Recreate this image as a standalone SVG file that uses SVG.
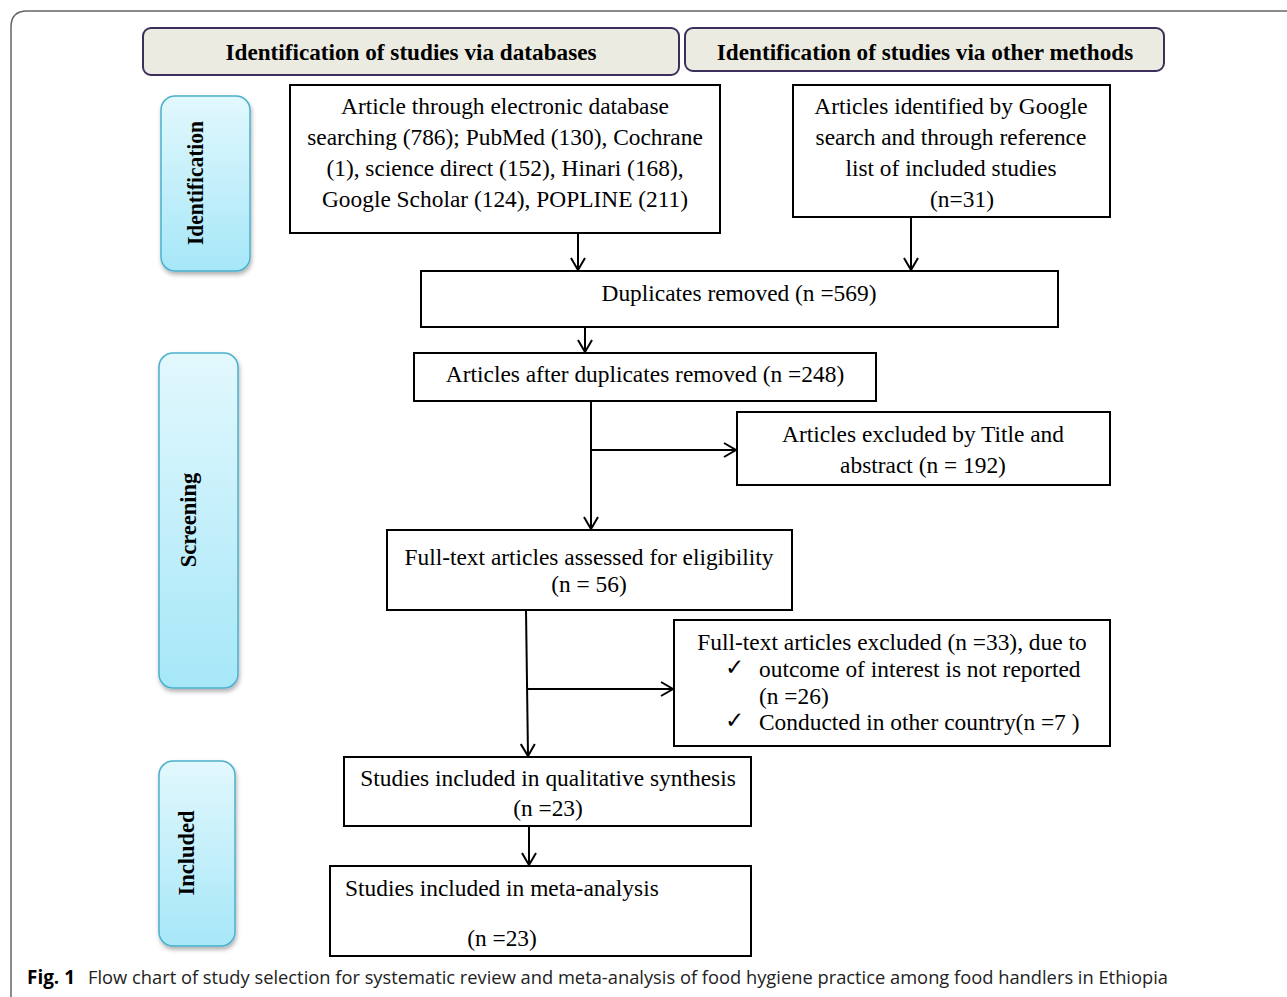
<svg xmlns="http://www.w3.org/2000/svg" width="1287" height="997" viewBox="0 0 1287 997">
<style>
.box{fill:#fff;stroke:#000;stroke-width:2}
.hdr{fill:#ecebe2;stroke:#3d2f5b;stroke-width:2}
.side{fill:url(#g);stroke:#4bb0cc;stroke-width:1.5;filter:url(#sh)}
.t{font-family:"Liberation Serif","Times New Roman",serif;font-size:23.4px;fill:#000}
.h{font-size:23.2px;font-weight:bold}
.s{font-size:22.5px;font-weight:bold}
.c{text-anchor:middle}
.con{fill:none;stroke:#000;stroke-width:2}
</style>
<defs>
<linearGradient id="g" x1="0" y1="0" x2="0" y2="1">
<stop offset="0" stop-color="#e2f8fd"/>
<stop offset="1" stop-color="#a6e7f8"/>
</linearGradient>
<filter id="sh" x="-20%" y="-10%" width="140%" height="120%">
<feDropShadow dx="1" dy="3" stdDeviation="2" flood-color="#000" flood-opacity="0.3"/>
</filter>
<marker id="a" markerWidth="16" markerHeight="16" refX="14" refY="8" orient="auto" markerUnits="userSpaceOnUse">
<polyline points="2,1 14,8 2,15" fill="none" stroke="#000" stroke-width="2"/>
</marker>
</defs>
<path d="M1287 11 H27 Q11 11 11 27 V997" fill="none" stroke="#666" stroke-width="1.5"/>

<g id="hdr1"><rect class="hdr" x="143" y="28" width="536" height="47" rx="8"/><text class="t c h" x="411" y="60">Identification of studies via databases</text></g>
<g id="hdr2"><rect class="hdr" x="685" y="28" width="479" height="43" rx="8"/><text class="t c h" x="925" y="60">Identification of studies via other methods</text></g>

<g id="side-identification"><rect class="side" x="161" y="96" width="89" height="175" rx="14"/><text class="t c s" transform="translate(203,183) rotate(-90)" textLength="124" lengthAdjust="spacingAndGlyphs">Identification</text></g>
<g id="side-screening"><rect class="side" x="159" y="353" width="79" height="335" rx="14"/><text class="t c s" transform="translate(196,520) rotate(-90)">Screening</text></g>
<g id="side-included"><rect class="side" x="159" y="761" width="76" height="185" rx="14"/><text class="t c s" transform="translate(194,853) rotate(-90)">Included</text></g>

<g id="db">
<rect class="box" x="290" y="85" width="430" height="148"/>
<text class="t c" x="505" y="114">Article through electronic database</text>
<text class="t c" x="505" y="145">searching (786); PubMed (130), Cochrane</text>
<text class="t c" x="505" y="176">(1), science direct (152), Hinari (168),</text>
<text class="t c" x="505" y="207">Google Scholar (124), POPLINE (211)</text>
</g>
<g id="other">
<rect class="box" x="793" y="85" width="317" height="132"/>
<text class="t c" x="951" y="114">Articles identified by Google</text>
<text class="t c" x="951" y="145">search and through reference</text>
<text class="t c" x="951" y="176">list of included studies</text>
<text class="t c" x="962" y="207">(n=31)</text>
</g>
<g id="dup">
<rect class="box" x="421" y="271" width="637" height="56"/>
<text class="t c" x="739" y="301">Duplicates removed (n =569)</text>
</g>
<g id="after">
<rect class="box" x="414" y="353" width="462" height="48"/>
<text class="t c" x="645" y="382">Articles after duplicates removed (n =248)</text>
</g>
<g id="excl1">
<rect class="box" x="737" y="412" width="373" height="73"/>
<text class="t c" x="923" y="442">Articles excluded by Title and</text>
<text class="t c" x="923" y="473">abstract (n = 192)</text>
</g>
<g id="fulltext">
<rect class="box" x="387" y="530" width="405" height="80"/>
<text class="t c" x="589" y="565">Full-text articles assessed for eligibility</text>
<text class="t c" x="589" y="592">(n = 56)</text>
</g>
<g id="excl2">
<rect class="box" x="674" y="620" width="436" height="126"/>
<text class="t c" x="892" y="650">Full-text articles excluded (n =33), due to</text>
<text class="t" x="725" y="675">✓</text>
<text class="t" x="759" y="677">outcome of interest is not reported</text>
<text class="t" x="759" y="704">(n =26)</text>
<text class="t" x="725" y="728">✓</text>
<text class="t" x="759" y="730">Conducted in other country(n =7 )</text>
</g>
<g id="qual">
<rect class="box" x="344" y="757" width="407" height="69"/>
<text class="t c" x="548" y="786">Studies included in qualitative synthesis</text>
<text class="t c" x="548" y="816">(n =23)</text>
</g>
<g id="meta">
<rect class="box" x="330" y="866" width="421" height="90"/>
<text class="t" x="345" y="896">Studies included in meta-analysis</text>
<text class="t c" x="502" y="946">(n =23)</text>
</g>

<g id="connectors">
<line class="con" x1="578" y1="233" x2="578" y2="270" marker-end="url(#a)"/>
<line class="con" x1="911" y1="217" x2="911" y2="270" marker-end="url(#a)"/>
<line class="con" x1="585" y1="327" x2="585" y2="352" marker-end="url(#a)"/>
<line class="con" x1="591" y1="401" x2="591" y2="529" marker-end="url(#a)"/>
<line class="con" x1="591" y1="450" x2="736" y2="450" marker-end="url(#a)"/>
<line class="con" x1="526" y1="610" x2="528" y2="756" marker-end="url(#a)"/>
<line class="con" x1="527" y1="689" x2="673" y2="689" marker-end="url(#a)"/>
<line class="con" x1="529" y1="826" x2="529" y2="865" marker-end="url(#a)"/>
</g>

<g id="caption">
<text x="27" y="984" font-family="'Open Sans','Noto Sans',sans-serif" font-size="19" font-weight="bold" textLength="48" lengthAdjust="spacingAndGlyphs">Fig. 1</text>
<text x="88" y="984" font-family="'Open Sans','Noto Sans',sans-serif" font-size="19" fill="#222" textLength="1080" lengthAdjust="spacingAndGlyphs">Flow chart of study selection for systematic review and meta-analysis of food hygiene practice among food handlers in Ethiopia</text>
</g>
</svg>
